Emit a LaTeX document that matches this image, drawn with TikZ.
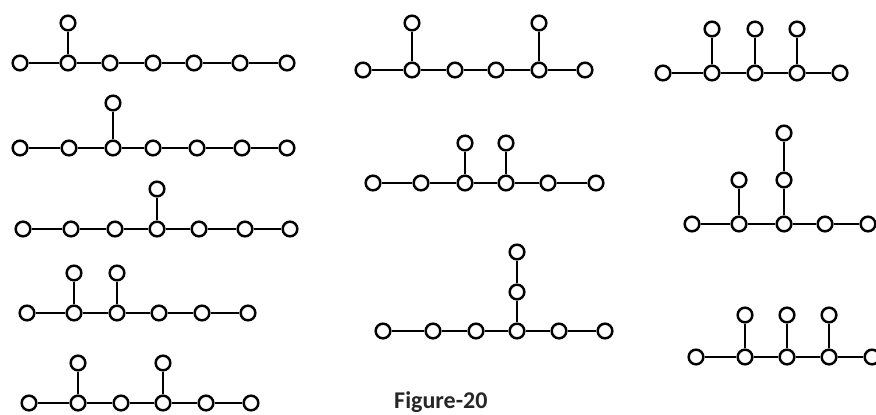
\documentclass[tikz,border=0pt]{standalone}
\usepackage{fontspec}
\setmainfont{Carlito}
\begin{document}
\begin{tikzpicture}[x=0.03cm, y=-0.03cm,
  vtx/.style={draw, circle, fill=white, line width=0.074cm, minimum size=0.44cm, inner sep=0pt},
  edge/.style={line width=0.068cm}]
  \useasboundingbox (0,0) rectangle (876,414);

  % left column
  \foreach \x [count=\i] in {20,68,110,153,194,240,287} \node[vtx] (a\i) at (\x,63) {};
  \node[vtx] (a8) at (68,23) {};
  \foreach \i/\j in {1/2,2/3,3/4,4/5,5/6,6/7,2/8} \draw[edge] (a\i) -- (a\j);

  \foreach \x [count=\i] in {20,69,113,153,197,242,287} \node[vtx] (b\i) at (\x,148) {};
  \node[vtx] (b8) at (113,103) {};
  \foreach \i/\j in {1/2,2/3,3/4,4/5,5/6,6/7,3/8} \draw[edge] (b\i) -- (b\j);

  \foreach \x [count=\i] in {23,71,115,157,199,245,290} \node[vtx] (c\i) at (\x,229) {};
  \node[vtx] (c8) at (157,189) {};
  \foreach \i/\j in {1/2,2/3,3/4,4/5,5/6,6/7,4/8} \draw[edge] (c\i) -- (c\j);

  \foreach \x [count=\i] in {27,74,117,159,202,248} \node[vtx] (d\i) at (\x,313) {};
  \node[vtx] (d7) at (74,273) {};
  \node[vtx] (d8) at (117,273) {};
  \foreach \i/\j in {1/2,2/3,3/4,4/5,5/6,2/7,3/8} \draw[edge] (d\i) -- (d\j);

  \foreach \x [count=\i] in {29,78,121,163,206,251} \node[vtx] (e\i) at (\x,403) {};
  \node[vtx] (e7) at (78,363) {};
  \node[vtx] (e8) at (163,363) {};
  \foreach \i/\j in {1/2,2/3,3/4,4/5,5/6,2/7,4/8} \draw[edge] (e\i) -- (e\j);

  % middle column
  \foreach \x [count=\i] in {363,412,455,496,539,585} \node[vtx] (f\i) at (\x,70) {};
  \node[vtx] (f7) at (412,23) {};
  \node[vtx] (f8) at (539,23) {};
  \foreach \i/\j in {1/2,2/3,3/4,4/5,5/6,2/7,5/8} \draw[edge] (f\i) -- (f\j);

  \foreach \x [count=\i] in {373,421,465,506,548,596} \node[vtx] (g\i) at (\x,183) {};
  \node[vtx] (g7) at (465,143) {};
  \node[vtx] (g8) at (506,143) {};
  \foreach \i/\j in {1/2,2/3,3/4,4/5,5/6,3/7,4/8} \draw[edge] (g\i) -- (g\j);

  \foreach \x [count=\i] in {383,433,476,517,559,605} \node[vtx] (h\i) at (\x,331) {};
  \node[vtx] (h7) at (517,292) {};
  \node[vtx] (h8) at (517,252) {};
  \foreach \i/\j in {1/2,2/3,3/4,4/5,5/6,4/7,7/8} \draw[edge] (h\i) -- (h\j);

  % right column
  \foreach \x [count=\i] in {663,712,755,797,840} \node[vtx] (k\i) at (\x,73) {};
  \node[vtx] (k6) at (712,29) {};
  \node[vtx] (k7) at (755,29) {};
  \node[vtx] (k8) at (797,29) {};
  \foreach \i/\j in {1/2,2/3,3/4,4/5,2/6,3/7,4/8} \draw[edge] (k\i) -- (k\j);

  \foreach \x [count=\i] in {692,739,784,825,868} \node[vtx] (m\i) at (\x,224) {};
  \node[vtx] (m6) at (739,180) {};
  \node[vtx] (m7) at (784,180) {};
  \node[vtx] (m8) at (784,133) {};
  \foreach \i/\j in {1/2,2/3,3/4,4/5,2/6,3/7,7/8} \draw[edge] (m\i) -- (m\j);

  \foreach \x [count=\i] in {696,745,787,829,872} \node[vtx] (p\i) at (\x,357) {};
  \node[vtx] (p6) at (745,315) {};
  \node[vtx] (p7) at (787,315) {};
  \node[vtx] (p8) at (829,315) {};
  \foreach \i/\j in {1/2,2/3,3/4,4/5,2/6,3/7,4/8} \draw[edge] (p\i) -- (p\j);

  \node[anchor=west, inner sep=0pt, font=\fontsize{20.5}{24}\selectfont\bfseries, text=black!85] (caption) at (394,402) {Figure-20};
\end{tikzpicture}
\end{document}
